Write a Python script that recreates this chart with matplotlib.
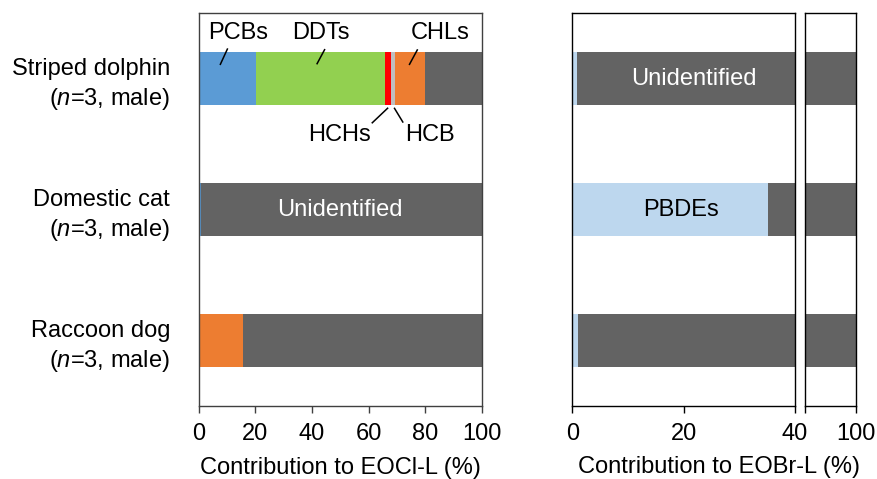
import matplotlib
matplotlib.use("Agg")
import matplotlib.pyplot as plt
import numpy as np

plt.rcParams['font.family'] = ['Liberation Sans', 'DejaVu Sans']
plt.rcParams['mathtext.fontset'] = 'custom'
plt.rcParams['mathtext.rm'] = 'Liberation Sans'
plt.rcParams['mathtext.it'] = 'Liberation Sans:italic'

# ---- data ----
species = ["Striped dolphin", "Domestic cat", "Raccoon dog"]
sample_info = [r"($\it{n}$=3, male)", r"($\it{n}$=3, male)", r"($\it{n}$=3, male)"]

cl_groups = ["PCBs", "DDTs", "HCHs", "HCB", "CHLs"]
PCBs = [20.3, 0.8, 0.0]
DDTs = [45.5, 0.0, 0.0]
HCHs = [2.1, 0.0, 0.0]
HCB = [1.3, 0.0, 0.0]
CHLs = [10.7, 0.0, 15.6]
cl_values = [PCBs, DDTs, HCHs, HCB, CHLs]

PBDEs = [0.9, 35.1, 1.1]

cl_ticks = [0, 20, 40, 60, 80, 100]
br_ticks_a = [0, 20, 40]
br_ticks_b = [100]

colors = {"PCBs": "#5B9BD5", "DDTs": "#92D050", "HCHs": "#FF0000",
          "HCB": "#BFBFBF", "CHLs": "#ED7D31", "Unidentified": "#636363",
          "PBDEs": "#BDD7EE"}

FS = 17
W, H = 877, 479
fig = plt.figure(figsize=(W / 100, H / 100), dpi=100)


def fx(px):
    return px / W


def fy(py):
    return 1 - py / H


top, bot = 13, 406
axL = fig.add_axes([fx(198.5), fy(bot), fx(482) - fx(198.5), fy(top) - fy(bot)])
axR1 = fig.add_axes([fx(572.3), fy(bot), fx(795) - fx(572.3), fy(top) - fy(bot)])
axR2 = fig.add_axes([fx(805), fy(bot), fx(855.5) - fx(805), fy(top) - fy(bot)])

y = np.arange(len(species))
bh = 0.4

# left panel
left = np.zeros(len(species))
for name, vals in zip(cl_groups, cl_values):
    v = np.array(vals)
    axL.barh(y, v, left=left, height=bh, color=colors[name], linewidth=0)
    left += v
unid_cl = 100 - left
axL.barh(y, unid_cl, left=left, height=bh, color=colors["Unidentified"], linewidth=0)

# right panels
pb = np.array(PBDEs)
unid_br = 100 - pb
for ax in (axR1, axR2):
    ax.barh(y, pb, height=bh, color=colors["PBDEs"], linewidth=0)
    ax.barh(y, unid_br, left=pb, height=bh, color=colors["Unidentified"], linewidth=0)

axL.set_xlim(0, 100)
axR1.set_xlim(0, 40)
axR2.set_xlim(91, 100)

for ax, spc in ((axL, "#404040"), (axR1, "black"), (axR2, "black")):
    ax.set_ylim(len(species) - 0.5, -0.5)
    for s in ax.spines.values():
        s.set_color(spc)
        s.set_linewidth(1.0)
    ax.tick_params(axis='x', direction='out', length=5, width=1.0, color=spc,
                   labelsize=FS, pad=7.5)
    ax.tick_params(axis='y', length=0)

axL.set_xticks(cl_ticks)
axL.set_xticklabels([str(t) for t in cl_ticks])
axL.set_yticks(y)
axL.set_yticklabels([f"{s}\n{i}" for s, i in zip(species, sample_info)],
                    fontsize=FS, linespacing=1.32)
axL.tick_params(axis='y', pad=20.5)

axR1.set_xticks(br_ticks_a)
axR1.set_xticklabels([str(t) for t in br_ticks_a])
axR1.set_yticks([])
axR2.set_xticks([91] + br_ticks_b)
axR2.set_xticklabels([""] + [str(t) for t in br_ticks_b])
axR2.set_yticks([])

axL.set_xlabel("Contribution to EOCl-L (%)", fontsize=FS, labelpad=8.5)
fig.text(fx(719), fy(467), "Contribution to EOBr-L (%)", fontsize=FS,
         ha='center', va='center')

# in-bar labels
axL.text(50, 1, "Unidentified", color="white", fontsize=FS, ha='center', va='center')
axR1.text(21.8, 0, "Unidentified", color="white", fontsize=FS, ha='center', va='center')
axR1.text(19.5, 1, "PBDEs", color="black", fontsize=FS, ha='center', va='center')

# callouts on striped dolphin bar
callouts = [
    ("PCBs", (13.9, -0.347), (10.3, -0.23), (7.6, -0.103)),
    ("DDTs", (43.2, -0.347), (44.6, -0.225), (41.7, -0.108)),
    ("CHLs", (85.2, -0.347), (77.3, -0.223), (74.3, -0.103)),
    ("HCHs", (49.9, 0.431), (66.9, 0.223), (61.1, 0.342)),
    ("HCB", (81.7, 0.431), (69.0, 0.223), (72.2, 0.337)),
]
for label, tpos, p1, p2 in callouts:
    axL.text(tpos[0], tpos[1], label, fontsize=FS, ha='center', va='center')
    axL.plot([p1[0], p2[0]], [p1[1], p2[1]], color='black', lw=1.1,
             solid_capstyle='butt')

fig.savefig("out.png", dpi=100)
